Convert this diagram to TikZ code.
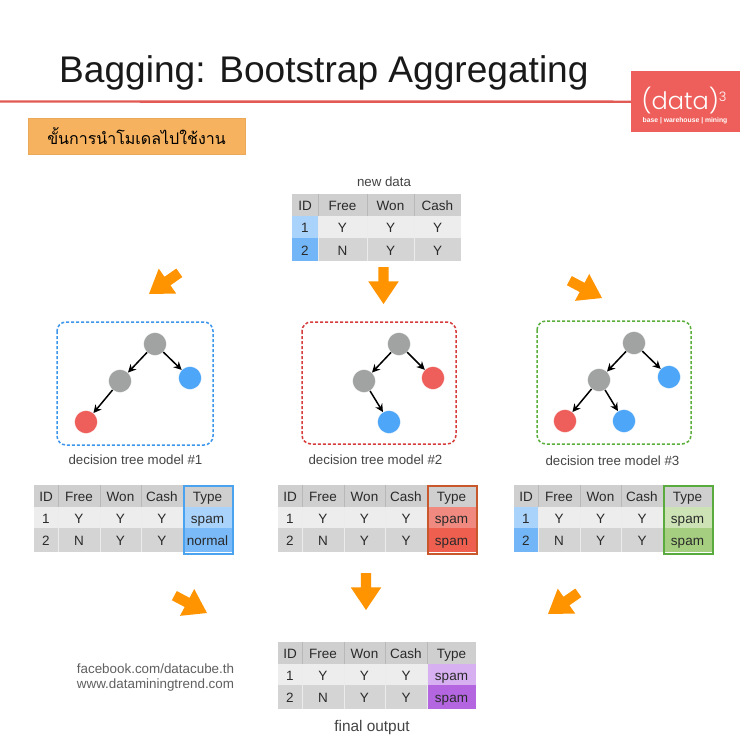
\documentclass[tikz,border=0pt]{standalone}
\usepackage{fontspec}
\setmainfont{Liberation Sans}
\newfontfamily\thaifont[Script=Thai]{Loma}
\newfontfamily\logofont{Poppins}[UprightFont=* Light]
\usetikzlibrary{shapes.arrows,positioning,arrows.meta}
\definecolor{hdr}{HTML}{CFCFCF}
\definecolor{rowa}{HTML}{EDEDED}
\definecolor{rowb}{HTML}{D4D4D4}
\definecolor{txt}{HTML}{2A2A2A}
\definecolor{lab}{HTML}{444444}
\definecolor{idA}{HTML}{A9D3FB}
\definecolor{idB}{HTML}{72B6F7}
\definecolor{treegray}{HTML}{A0A3A2}
\definecolor{treeblue}{HTML}{4DA6F7}
\definecolor{treered}{HTML}{EE5F5B}
\definecolor{orangearrow}{HTML}{FF9400}
\definecolor{logored}{HTML}{EE5F5B}
\definecolor{stepfill}{HTML}{F6B25F}
\tikzset{
 x=1pt,y=-1pt,
 tcell/.style={inner sep=0pt,outer sep=0pt,text=txt,font=\fontsize{13.5}{14}\selectfont,anchor=center,text height=11.7pt,text depth=0pt},
 lbl/.style={inner sep=0pt,text=lab,font=\fontsize{13.3}{14}\selectfont},
 orarrow/.style={shape=single arrow,anchor=tip,fill=orangearrow,draw=none,inner sep=5pt,outer sep=0pt,minimum height=37pt,minimum width=30pt,single arrow head extend=10pt,single arrow tip angle=68},
 tn/.style={circle,inner sep=0pt,minimum size=23pt,draw=white,line width=.3pt},
 tgray/.style={tn,fill=treegray},
 tblue/.style={tn,fill=treeblue},
 tred/.style={tn,fill=treered},
 edge/.style={-{Stealth[length=8pt,width=8pt]},line width=1.5pt,black},
 tbox/.style={rounded corners=9pt,dash pattern=on 3pt off 2pt,line width=1.5pt},
 sep/.style={line width=.6pt,black!28},
 sepl/.style={line width=.5pt,black!8},
 frame/.style={line width=2pt,inner sep=0pt,minimum height=68pt,anchor=north west},
}
% \tcellat{name}{x1}{x2}{y1}{y2}{fill}{text}
\newcommand{\tcellat}[7]{%
 \pgfmathsetmacro{\cw}{#3-#2}\pgfmathsetmacro{\ch}{#5-#4}%
 \pgfmathsetmacro{\cx}{(#2+#3)/2}\pgfmathsetmacro{\cy}{(#4+#5)/2}%
 \node[tcell,fill=#6,minimum width=\cw pt,minimum height=\ch pt] (#1) at (\cx,\cy) {#7};%
}
% \typetable{name}{x}{y}{id1}{id2}{type1}{type2}{type text 2}
\newcommand{\typetable}[8]{%
 \begin{scope}[shift={(#2,#3)}]
 \tcellat{#1-h1}{0}{24}{0}{22}{hdr}{ID}
 \tcellat{#1-h2}{24}{66}{0}{22}{hdr}{Free}
 \tcellat{#1-h3}{66}{107}{0}{22}{hdr}{Won}
 \tcellat{#1-h4}{107}{149}{0}{22}{hdr}{Cash}
 \tcellat{#1-h5}{149}{198}{0}{22}{hdr}{Type}
 \tcellat{#1-a1}{0}{24}{22}{43}{#4}{1}
 \tcellat{#1-a2}{24}{66}{22}{43}{rowa}{Y}
 \tcellat{#1-a3}{66}{107}{22}{43}{rowa}{Y}
 \tcellat{#1-a4}{107}{149}{22}{43}{rowa}{Y}
 \tcellat{#1-a5}{149}{198}{22}{43}{#6}{spam}
 \tcellat{#1-b1}{0}{24}{43}{67}{#5}{2}
 \tcellat{#1-b2}{24}{66}{43}{67}{rowb}{N}
 \tcellat{#1-b3}{66}{107}{43}{67}{rowb}{Y}
 \tcellat{#1-b4}{107}{149}{43}{67}{rowb}{Y}
 \tcellat{#1-b5}{149}{198}{43}{67}{#7}{#8}
 \foreach \vx in {24,66,107,149}{\draw[sep] (\vx,0) -- (\vx,22);\draw[sepl] (\vx,22) -- (\vx,67);}
 \end{scope}%
}
\begin{document}
\begin{tikzpicture}
\useasboundingbox (0,0) rectangle (740,740);
\fill[white] (0,0) rectangle (740,740);
% header
\node[anchor=base west,inner sep=0pt,font=\fontsize{37.1}{40}\selectfont,text=black!90] (title) at (59,82) {Bagging: Bootstrap Aggregating};
\coordinate (lineend) at (0,101.5);
\node[minimum width=109pt,minimum height=61pt,inner sep=0pt,fill=logored,anchor=north west] (logo) at (631,71) {};
\draw[logored!95!black,line width=2.4pt] (logo.west) -- (lineend);
\node[anchor=base,inner sep=0pt,text=white,font=\logofont\fontsize{24}{24}\selectfont] (logot) at (684,109) {(data)\raisebox{8pt}{\fontsize{13}{13}\selectfont 3}};
\node[anchor=base,inner sep=0pt,text=white,font=\bfseries\fontsize{6.8}{7}\selectfont] (logos) at (685,122.5) {base | warehouse | mining};
\node[anchor=north west,minimum width=217pt,minimum height=36pt,inner sep=0pt,fill=stepfill,draw=stepfill!95!black,line width=.4pt] (step) at (28,118) {};
\node[inner sep=0pt,font=\thaifont\fontsize{16}{18}\selectfont,text=black] (steptxt) at (136.5,136.5) {ขั้นการนำโมเดลไปใช้งาน};
% new data
\node[lbl] (newdata) at (384,182) {new data};
\begin{scope}[shift={(292,194)}]
 \tcellat{n-h1}{0}{26}{0}{22}{hdr}{ID}
 \tcellat{n-h2}{26}{75}{0}{22}{hdr}{Free}
 \tcellat{n-h3}{75}{122}{0}{22}{hdr}{Won}
 \tcellat{n-h4}{122}{169}{0}{22}{hdr}{Cash}
 \tcellat{n-a1}{0}{26}{22}{44}{idA}{1}
 \tcellat{n-a2}{26}{75}{22}{44}{rowa}{Y}
 \tcellat{n-a3}{75}{122}{22}{44}{rowa}{Y}
 \tcellat{n-a4}{122}{169}{22}{44}{rowa}{Y}
 \tcellat{n-b1}{0}{26}{44}{67}{idB}{2}
 \tcellat{n-b2}{26}{75}{44}{67}{rowb}{N}
 \tcellat{n-b3}{75}{122}{44}{67}{rowb}{Y}
 \tcellat{n-b4}{122}{169}{44}{67}{rowb}{Y}
 \foreach \vx in {26,75,122}{\draw[sep] (\vx,0) -- (\vx,22);\draw[sepl] (\vx,22) -- (\vx,67);}
\end{scope}
% orange arrows
\node[orarrow,rotate=215] (a1) at (149,294) {};
\node[orarrow,rotate=-90] (a2) at (383.5,304) {};
\node[orarrow,rotate=-28] (a3) at (602,298) {};
\node[orarrow,rotate=-28] (a4) at (207,613) {};
\node[orarrow,rotate=-90] (a5) at (366,610) {};
\node[orarrow,rotate=215] (a6) at (548,614) {};
% tree 1
\draw[tbox,draw={rgb,255:red,60;green,150;blue,235}] (57,322) rectangle (213,445);
\node[tgray] (t1r) at (155,344) {};
\node[tgray] (t1a) at (120,381) {};
\node[tblue] (t1b) at (190,378) {};
\node[tred] (t1c) at (86,422) {};
\draw[edge] (t1r) -- (t1a);
\draw[edge] (t1r) -- (t1b);
\draw[edge] (t1a) -- (t1c);
\node[lbl] (l1) at (135.5,460) {decision tree model \#1};
% tree 2
\draw[tbox,draw={rgb,255:red,215;green,60;blue,60}] (302,322) rectangle (456,444);
\node[tgray] (t2r) at (399,344) {};
\node[tgray] (t2a) at (364,381) {};
\node[tred] (t2b) at (433,378) {};
\node[tblue] (t2c) at (389,422) {};
\draw[edge] (t2r) -- (t2a);
\draw[edge] (t2r) -- (t2b);
\draw[edge] (t2a) -- (t2c);
\node[lbl] (l2) at (375.5,460) {decision tree model \#2};
% tree 3
\draw[tbox,draw={rgb,255:red,90;green,175;blue,60}] (537,321) rectangle (691,444);
\node[tgray] (t3r) at (634,343) {};
\node[tgray] (t3a) at (599,380) {};
\node[tblue] (t3b) at (669,377) {};
\node[tred] (t3c) at (565,421) {};
\node[tblue] (t3d) at (624,421) {};
\draw[edge] (t3r) -- (t3a);
\draw[edge] (t3r) -- (t3b);
\draw[edge] (t3a) -- (t3c);
\draw[edge] (t3a) -- (t3d);
\node[lbl] (l3) at (612.5,461) {decision tree model \#3};
% tables
\typetable{A}{34}{485}{rowa}{rowb}{{rgb,255:red,169;green,211;blue,251}}{{rgb,255:red,122;green,186;blue,249}}{normal}
\node[frame,draw={rgb,255:red,75;green,163;blue,240},minimum width=49pt] (Af) at (183,485) {};
\typetable{B}{278}{485}{rowa}{rowb}{{rgb,255:red,240;green,138;blue,128}}{{rgb,255:red,238;green,95;blue,80}}{spam}
\node[frame,draw={rgb,255:red,200;green,88;blue,43},minimum width=49pt] (Bf) at (427,485) {};
\typetable{C}{514}{485}{idA}{idB}{{rgb,255:red,205;green,227;blue,181}}{{rgb,255:red,166;green,206;blue,128}}{spam}
\node[frame,draw={rgb,255:red,90;green,171;blue,62},minimum width=49pt] (Cf) at (663,485) {};
\typetable{D}{278}{642}{rowa}{rowb}{{rgb,255:red,214;green,176;blue,240}}{{rgb,255:red,180;green,102;blue,224}}{spam}
\node[lbl,font=\fontsize{15.4}{16}\selectfont] (final) at (372,728) {final output};
\node[lbl,align=center,text=lab!85,font=\fontsize{13.4}{15}\selectfont] (foot) at (155.5,678) {facebook.com/datacube.th\\www.dataminingtrend.com};
\end{tikzpicture}
\end{document}
